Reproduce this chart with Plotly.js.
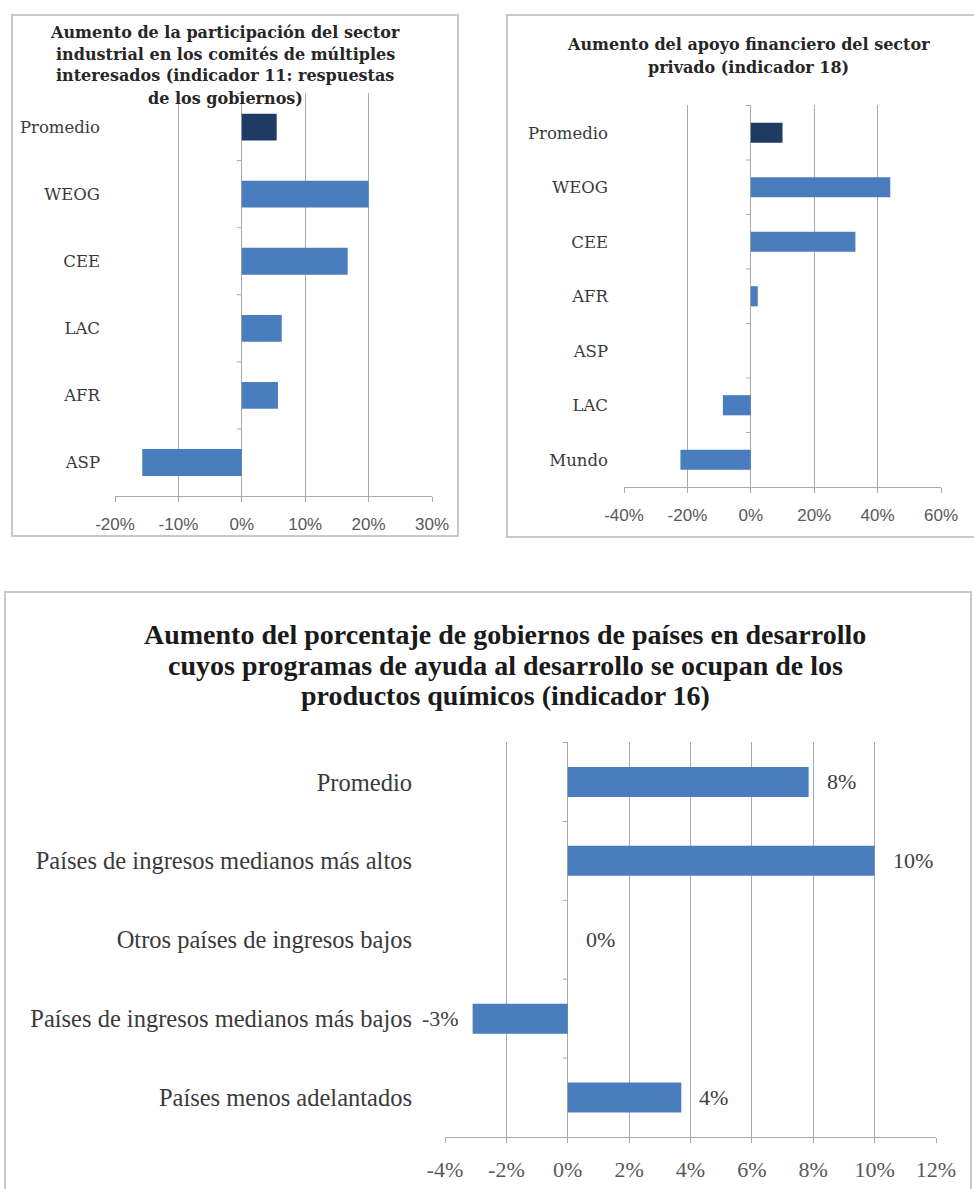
<!DOCTYPE html>
<html>
<head>
<meta charset="utf-8">
<script src="https://cdn.plot.ly/plotly-3.0.1.min.js"></script>
<style>
  html, body { margin: 0; padding: 0; background: #ffffff; }
  body { width: 974px; height: 1189px; position: relative; overflow: hidden; }
  .chart { position: absolute; }
  .frame { position: absolute; box-sizing: border-box; border: 2px solid #c8c8c8; pointer-events: none; }
</style>
</head>
<body>
<div id="c1" class="chart" style="left:12px; top:15px; width:446px; height:521px;"></div>
<div class="frame" style="left:11px; top:14px; width:448px; height:523px;"></div>
<div id="c2" class="chart" style="left:507px; top:15px; width:467px; height:522px;"></div>
<div class="frame" style="left:506px; top:14px; width:472px; height:524px;"></div>
<div id="c3" class="chart" style="left:5px; top:592px; width:965px; height:597px;"></div>
<div class="frame" style="left:4px; top:591px; width:968px; height:610px;"></div>
<script>
// ---------- DATA ----------
const title1 = 'Aumento de la participación del sector<br>industrial en los comités de múltiples<br>interesados (indicador 11: respuestas<br>de los gobiernos)';
const cats1 = ['Promedio', 'WEOG', 'CEE', 'LAC', 'AFR', 'ASP'];
const vals1 = [0.055, 0.20, 0.167, 0.063, 0.057, -0.157];

const title2 = 'Aumento del apoyo financiero del sector<br>privado (indicador 18)';
const cats2 = ['Promedio', 'WEOG', 'CEE', 'AFR', 'ASP', 'LAC', 'Mundo'];
const vals2 = [0.10, 0.44, 0.33, 0.022, 0, -0.088, -0.222];

const title3 = 'Aumento del porcentaje de gobiernos de países en desarrollo<br>cuyos programas de ayuda al desarrollo se ocupan de los<br>productos químicos (indicador 16)';
const cats3 = ['Promedio', 'Países de ingresos medianos más altos', 'Otros países de ingresos bajos', 'Países de ingresos medianos más bajos', 'Países menos adelantados'];
const vals3 = [0.0785, 0.10, 0, -0.031, 0.037];

// ---------- STYLE ----------
const BLUE = '#4a7dbe';
const NAVY = '#1f3a63';
const GRID = '#a9a9a9';
const config = { displayModeBar: false, staticPlot: true };

function pct(v) { return Math.round(v * 100) + '%'; }

function ticksFor(range, step) {
  const vals = [];
  const n = Math.round((range[1] - range[0]) / step);
  for (let i = 0; i <= n; i++) vals.push(+(range[0] + i * step).toFixed(4));
  return { tickvals: vals, ticktext: vals.map(pct) };
}

function zeroTicks(cats) {
  const s = [];
  for (let i = 0; i < cats.length; i++) {
    s.push({ type: 'line', xref: 'x', yref: 'y', xsizemode: 'pixel', xanchor: 0,
             x0: -5, x1: 0, y0: i - 0.5, y1: i - 0.5,
             line: { color: GRID, width: 1 } });
  }
  return s;
}

// title lines as annotations, positioned in pixels inside the chart div
function titleLines(text, cx, y0, dy, font, W, H, m) {
  const pw = W - m.l - m.r, ph = H - m.t - m.b;
  return text.split('<br>').map((line, i) => ({
    text: line, showarrow: false, xref: 'paper', yref: 'paper',
    x: (cx - m.l) / pw, y: 1 - ((y0 + i * dy) - m.t) / ph,
    xanchor: 'center', yanchor: 'middle', font: font
  }));
}

function smallChart(id, title, cats, vals, range, step, margin, tpos, standoff, bargap) {
  const el = document.getElementById(id);
  const W = el.offsetWidth, H = el.offsetHeight;
  const trace = {
    type: 'bar', orientation: 'h', y: cats, x: vals,
    marker: { color: cats.map(c => c === 'Promedio' ? NAVY : BLUE), line: { width: 0 } },
    hoverinfo: 'none'
  };
  const tk = ticksFor(range, step);
  const layout = {
    width: W, height: H, margin: margin,
    paper_bgcolor: '#ffffff', plot_bgcolor: '#ffffff',
    showlegend: false, bargap: bargap,
    xaxis: {
      range: range, tickmode: 'array', tickvals: tk.tickvals, ticktext: tk.ticktext,
      showgrid: true, gridcolor: GRID, gridwidth: 1, zeroline: false,
      showline: true, linecolor: GRID, linewidth: 1,
      ticks: 'outside', ticklen: 5, tickcolor: GRID,
      ticklabelstandoff: 8,
      tickfont: { family: 'Liberation Sans', size: 17, color: '#595959' },
      fixedrange: true
    },
    yaxis: {
      type: 'category', autorange: 'reversed',
      showgrid: false, zeroline: false, showline: false, ticks: '',
      ticklabelstandoff: standoff,
      tickfont: { family: 'DejaVu Serif', size: 16.5, color: '#3a3a3a' },
      fixedrange: true
    },
    shapes: zeroTicks(cats),
    annotations: titleLines(title, tpos[0], tpos[1], tpos[2],
      { family: 'DejaVu Serif', size: 16, weight: 'bold', color: '#262626' }, W, H, margin)
  };
  Plotly.newPlot(id, [trace], layout, config);
}

// chart 1: plot area x 115..432, y 93..496 (page px)
smallChart('c1', title1, cats1, vals1, [-0.2, 0.3], 0.1,
           { l: 103, r: 26, t: 78, b: 40 }, [213, 17, 22], 14, 0.6);
// chart 2: plot area x 624..941, y 105..487
smallChart('c2', title2, cats2, vals2, [-0.4, 0.6], 0.2,
           { l: 117, r: 33, t: 90, b: 50 }, [241, 30, 23], 15, 0.63);

// ---------- Chart 3 ----------
(function () {
  const id = 'c3';
  const el = document.getElementById(id);
  const W = el.offsetWidth, H = el.offsetHeight;
  const margin = { l: 440, r: 34, t: 150, b: 52 };
  const trace = {
    type: 'bar', orientation: 'h', y: cats3, x: vals3,
    marker: { color: BLUE, line: { width: 0 } }, hoverinfo: 'none'
  };
  const labels = vals3.map((v, i) => ({
    x: v, y: cats3[i], xref: 'x', yref: 'y',
    text: pct(v), showarrow: false,
    xanchor: v < 0 ? 'right' : 'left',
    xshift: v < 0 ? -12 : 16,
    font: { family: 'Liberation Serif', size: 22, color: '#404040' }
  }));
  const range = [-0.04, 0.12];
  const tk = ticksFor(range, 0.02);
  const layout = {
    width: W, height: H, margin: margin,
    paper_bgcolor: '#ffffff', plot_bgcolor: '#ffffff',
    showlegend: false, bargap: 0.62,
    xaxis: {
      range: range, tickmode: 'array', tickvals: tk.tickvals, ticktext: tk.ticktext,
      showgrid: true, gridcolor: GRID, gridwidth: 1, zeroline: false,
      showline: true, linecolor: GRID, linewidth: 1,
      ticks: 'outside', ticklen: 5, tickcolor: GRID,
      ticklabelstandoff: 8,
      tickfont: { family: 'Liberation Serif', size: 22, color: '#595959' },
      fixedrange: true
    },
    yaxis: {
      type: 'category', autorange: 'reversed',
      showgrid: false, zeroline: false, showline: false, ticks: '',
      ticklabelstandoff: 32,
      tickfont: { family: 'Liberation Serif', size: 24.5, color: '#3a3a3a' },
      fixedrange: true
    },
    shapes: zeroTicks(cats3),
    annotations: labels.concat(titleLines(title3, 500, 43, 30,
      { family: 'Liberation Serif', size: 28, weight: 'bold', color: '#1a1a1a' }, W, H, margin))
  };
  Plotly.newPlot(id, [trace], layout, config);
})();
</script>
</body>
</html>
